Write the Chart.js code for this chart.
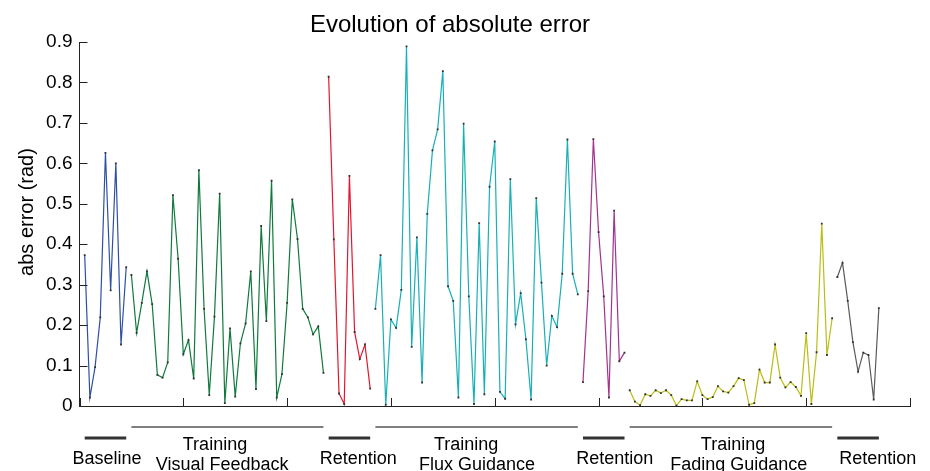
<!DOCTYPE html>
<html>
<head>
<meta charset="utf-8">
<script src="https://cdn.jsdelivr.net/npm/chart.js@4.4.1/dist/chart.umd.min.js"></script>
<style>
  html, body { margin: 0; padding: 0; background: #fff; }
  #wrap { width: 930px; height: 471px; }
</style>
</head>
<body>
<div id="wrap"><canvas id="grafico" width="930" height="471"></canvas></div>
<script>
// abs error per trial, one array per phase (trials are numbered consecutively from 1)
const baseline = [0.373, 0.021, 0.096, 0.219, 0.626, 0.286, 0.600, 0.152, 0.343];
const trainingVisual = [0.324, 0.181, 0.255, 0.333, 0.252, 0.077, 0.070, 0.108, 0.521, 0.364,
  0.128, 0.163, 0.068, 0.583, 0.240, 0.027, 0.221, 0.525, 0.007, 0.192,
  0.023, 0.155, 0.204, 0.333, 0.042, 0.445, 0.210, 0.557, 0.021, 0.079,
  0.255, 0.511, 0.413, 0.240, 0.219, 0.177, 0.197, 0.082];
const retention1 = [0.814, 0.412, 0.031, 0.005, 0.569, 0.183, 0.116, 0.152, 0.043];
const trainingFlux = [0.240, 0.373, 0.003, 0.214, 0.193, 0.287, 0.889, 0.146, 0.417, 0.058,
  0.475, 0.632, 0.684, 0.828, 0.296, 0.260, 0.021, 0.698, 0.271, 0.005,
  0.452, 0.029, 0.542, 0.654, 0.035, 0.018, 0.561, 0.202, 0.279, 0.165,
  0.016, 0.514, 0.305, 0.100, 0.223, 0.195, 0.327, 0.659, 0.327, 0.276];
const retention2 = [0.059, 0.284, 0.660, 0.430, 0.271, 0.021, 0.483, 0.111, 0.132];
const trainingFading = [0.039, 0.011, 0.002, 0.029, 0.025, 0.039, 0.032, 0.039, 0.027, 0.001,
  0.017, 0.014, 0.014, 0.061, 0.027, 0.017, 0.022, 0.049, 0.036, 0.033,
  0.049, 0.069, 0.064, 0.003, 0.007, 0.090, 0.058, 0.058, 0.152, 0.070,
  0.046, 0.059, 0.047, 0.025, 0.180, 0.005, 0.133, 0.451, 0.126, 0.217];
const retention3 = [0.319, 0.354, 0.260, 0.158, 0.085, 0.132, 0.126, 0.016, 0.242];

const yTicks = ['0', '0.1', '0.2', '0.3', '0.4', '0.5', '0.6', '0.7', '0.8', '0.9'];

// phase labels under the axis: text lines and where (in trial units) each line is centred
const phaseNames = [['Baseline'], ['Training', 'Visual Feedback'], ['Retention'],
  ['Training', 'Flux Guidance'], ['Retention'], ['Training', 'Fading Guidance'], ['Retention']];
const labelAt = [[5.3], [26.1, 27.5], [53.7], [74.5, 76.6], [103.1], [125.9, 127.0], [153.8]];

const phases = [baseline, trainingVisual, retention1, trainingFlux, retention2, trainingFading, retention3];
const cores = ['#2f4fa6', '#0f7a3c', '#e3152f', '#17b0b5', '#a3338f', '#bcbc14', '#5a5a5a'];

const FONTE = '"Liberation Sans", Arial, Helvetica, sans-serif';

let n = 1;
const ranges = [];
const datasets = phases.map(function (vals, k) {
  const start = n;
  const pts = vals.map(function (v) { return { x: n++, y: v }; });
  ranges.push([start, n - 1]);
  return {
    label: phaseNames[k].join(' '),
    data: pts,
    borderColor: cores[k],
    borderWidth: 1.2,
    pointStyle: 'rect',
    pointRadius: 1.3,
    pointBorderWidth: 0,
    pointBackgroundColor: '#333',
    tension: 0
  };
});

// inward ticks, title, y label and phase brackets
const extras = {
  id: 'extras',
  afterDraw: function (chart) {
    const c = chart.ctx;
    const xs = chart.scales.x, ys = chart.scales.y;
    const area = chart.chartArea;
    c.save();
    c.strokeStyle = '#222';
    c.lineWidth = 1;
    ys.ticks.forEach(function (t) {
      const py = Math.round(ys.getPixelForValue(t.value)) + 0.5;
      c.beginPath(); c.moveTo(area.left, py); c.lineTo(area.left + 8, py); c.stroke();
    });
    xs.ticks.forEach(function (t) {
      const px = Math.round(xs.getPixelForValue(t.value)) + 0.5;
      c.beginPath(); c.moveTo(px, area.bottom); c.lineTo(px, area.bottom - 8); c.stroke();
    });

    c.fillStyle = '#000';
    c.font = '24px ' + FONTE;
    c.textAlign = 'center';
    c.textBaseline = 'alphabetic';
    c.fillText('Evolution of absolute error', 450, 32);

    c.save();
    c.translate(33, 212);
    c.rotate(-Math.PI / 2);
    c.font = '20px ' + FONTE;
    c.fillText('abs error (rad)', 0, 0);
    c.restore();

    c.font = '18px ' + FONTE;
    ranges.forEach(function (r, k) {
      const x0 = xs.getPixelForValue(r[0]), x1 = xs.getPixelForValue(r[1]);
      const lines = phaseNames[k];
      c.beginPath();
      if (lines.length > 1) {
        c.strokeStyle = '#555'; c.lineWidth = 1.5;
        c.moveTo(x0, 427); c.lineTo(x1, 427);
      } else {
        c.strokeStyle = '#333'; c.lineWidth = 3;
        c.moveTo(x0, 438); c.lineTo(x1, 438);
      }
      c.stroke();
      if (lines.length > 1) {
        c.fillText(lines[0], xs.getPixelForValue(labelAt[k][0]), 450);
        c.fillText(lines[1], xs.getPixelForValue(labelAt[k][1]), 470);
      } else {
        c.fillText(lines[0], xs.getPixelForValue(labelAt[k][0]), 464);
      }
    });
    c.restore();
  }
};

const ctx = document.getElementById('grafico').getContext('2d');
new Chart(ctx, {
  type: 'line',
  data: { datasets: datasets },
  plugins: [extras],
  options: {
    responsive: false,
    animation: false,
    devicePixelRatio: 1,
    layout: { padding: { left: 0, right: 20, top: 42, bottom: 65 } },
    plugins: { legend: { display: false }, tooltip: { enabled: false }, title: { display: false } },
    scales: {
      x: {
        type: 'linear',
        min: 0,
        max: 160,
        ticks: { display: false, stepSize: 20 },
        grid: { display: false, drawTicks: false },
        border: { display: true, color: '#222', width: 1 },
        afterFit: function (s) { s.height = 0; }
      },
      y: {
        min: 0,
        max: 0.9,
        ticks: {
          stepSize: 0.1,
          padding: 7,
          color: '#000',
          font: { family: FONTE, size: 19 },
          callback: function (v) { return yTicks[Math.round(v * 10)]; }
        },
        grid: { display: false, drawTicks: false },
        border: { display: true, color: '#222', width: 1 },
        afterFit: function (s) { s.width = 79.5; }
      }
    }
  }
});
</script>
</body>
</html>
